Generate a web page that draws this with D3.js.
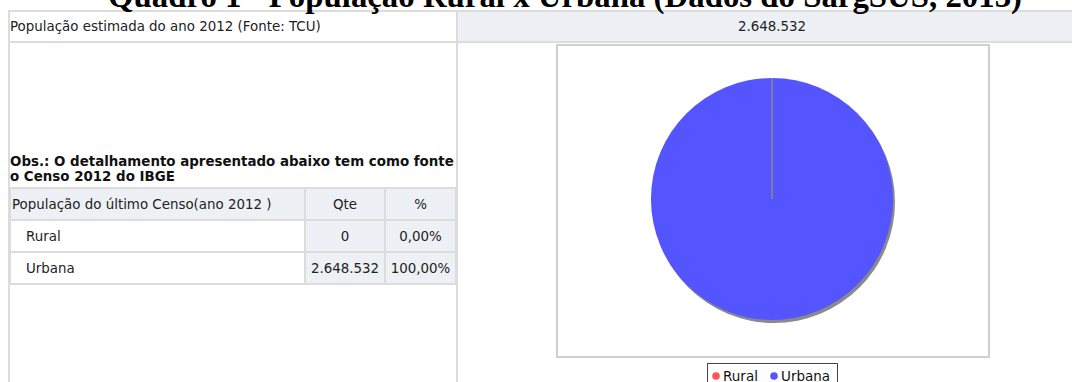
<!DOCTYPE html>
<html>
<head>
<meta charset="utf-8">
<script src="https://cdn.jsdelivr.net/npm/d3@7"></script>
<style>
  html, body { margin: 0; padding: 0; background: #fff; overflow: hidden; }
  svg { display: block; }
</style>
</head>
<body>
<svg id="chart" width="1072" height="382"></svg>
<script>
// Population data (SargSUS, 2013)
const categories = ["Rural", "Urbana"];
const values = [0, 2648532];
const percentLabels = ["0,00%", "100,00%"];
const qtyLabels = ["0", "2.648.532"];
const estimateLabel = "2.648.532";
const colors = ["#ff5555", "#5555ff"];

const titleText = "Quadro 1 - População Rural x Urbana (Dados do SargSUS, 2013)";
const headerLeft = "População estimada do ano 2012 (Fonte: TCU)";
const obsLines = ["Obs.: O detalhamento apresentado abaixo tem como fonte", "o Censo 2012 do IBGE"];
const tableHeader = ["População do último Censo(ano 2012 )", "Qte", "%"];

const svg = d3.select("#chart");
const font = "'DejaVu Sans', Verdana, sans-serif";
const fs = 13.4;
const cellBg = "#edf1f5";
const lineCol = "#dcdcdc";

// Outer layout table
svg.append("rect").attr("x", 457).attr("y", 11).attr("width", 620).attr("height", 31).attr("fill", cellBg);
svg.append("line").attr("x1", 9).attr("x2", 1072).attr("y1", 11).attr("y2", 11).attr("stroke", lineCol).attr("stroke-width", 2);
svg.append("line").attr("x1", 9).attr("x2", 1072).attr("y1", 42).attr("y2", 42).attr("stroke", lineCol).attr("stroke-width", 2);
svg.append("line").attr("x1", 9).attr("x2", 9).attr("y1", 10).attr("y2", 382).attr("stroke", lineCol).attr("stroke-width", 2);
svg.append("line").attr("x1", 457).attr("x2", 457).attr("y1", 10).attr("y2", 382).attr("stroke", lineCol).attr("stroke-width", 2);

// Page title (top partially outside the page)
svg.append("text")
  .attr("x", 565).attr("y", 7)
  .attr("text-anchor", "middle")
  .attr("font-family", "'Liberation Serif', 'Times New Roman', serif")
  .attr("font-weight", "bold")
  .attr("font-size", 33)
  .attr("textLength", 914).attr("lengthAdjust", "spacingAndGlyphs")
  .text(titleText);

svg.append("text").attr("x", 10).attr("y", 31)
  .attr("font-family", font).attr("font-size", fs).attr("fill", "#222")
  .text(headerLeft);
svg.append("text").attr("x", 772).attr("y", 31).attr("text-anchor", "middle")
  .attr("font-family", font).attr("font-size", fs).attr("fill", "#222")
  .text(estimateLabel);

// Observation note
svg.append("g").selectAll("text").data(obsLines).join("text")
  .attr("x", 10).attr("y", (d, i) => 166 + i * 15)
  .attr("font-family", font).attr("font-weight", "bold").attr("font-size", 13.4).attr("fill", "#111")
  .text(d => d);

// Census table
const colX = [10, 305, 385, 456];
const rowY = [188, 220, 252, 284];
const rows = [tableHeader].concat(categories.map((c, i) => [c, qtyLabels[i], percentLabels[i]]));
const tbl = svg.append("g");
rows.forEach((r, ri) => {
  r.forEach((cell, ci) => {
    const x0 = colX[ci], x1 = colX[ci + 1];
    const y0 = rowY[ri], y1 = rowY[ri + 1];
    const shaded = ri === 0 || ci > 0;
    tbl.append("rect").attr("x", x0).attr("y", y0).attr("width", x1 - x0).attr("height", y1 - y0)
      .attr("fill", shaded ? cellBg : "#fff")
      .attr("stroke", lineCol).attr("stroke-width", 2);
    const t = tbl.append("text")
      .attr("y", (y0 + y1) / 2 + 4.5)
      .attr("font-family", font).attr("font-size", fs).attr("fill", "#222")
      .text(cell);
    if (ci === 0) t.attr("x", ri === 0 ? x0 + 2 : x0 + 16);
    else t.attr("x", (x0 + x1) / 2).attr("text-anchor", "middle");
  });
});

// Chart frame
svg.append("rect").attr("x", 557).attr("y", 45).attr("width", 432).attr("height", 312)
  .attr("fill", "#fff").attr("stroke", "#cfcfcf").attr("stroke-width", 2);

// Pie
const cx = 772, cy = 199, r = 121;
const pie = d3.pie().sort(null).value(d => d)(values);
const arc = d3.arc().innerRadius(0).outerRadius(r);
const pg = svg.append("g").attr("transform", `translate(${cx},${cy})`);
// drop shadow
pg.append("circle").attr("cx", 2).attr("cy", 3).attr("r", r).attr("fill", "#8a8a8a");
pg.selectAll("path.slice").data(pie).join("path")
  .attr("class", "slice")
  .attr("d", arc)
  .attr("fill", (d, i) => colors[i]);
// slice boundary
pg.selectAll("line.edge").data(pie.filter(d => d.value === 0)).join("line")
  .attr("class", "edge")
  .attr("x1", 0).attr("y1", 0)
  .attr("x2", d => r * Math.sin(d.startAngle)).attr("y2", d => -r * Math.cos(d.startAngle))
  .attr("stroke", "#888").attr("stroke-width", 1.5);

// Legend
const lg = svg.append("g");
lg.append("rect").attr("x", 707.5).attr("y", 363.5).attr("width", 130).attr("height", 30)
  .attr("fill", "#fff").attr("stroke", "#444").attr("stroke-width", 1);
const legendX = [716, 774];
categories.forEach((c, i) => {
  lg.append("circle").attr("cx", legendX[i]).attr("cy", 376).attr("r", 3.8).attr("fill", colors[i]);
  lg.append("text").attr("x", legendX[i] + 7).attr("y", 381)
    .attr("font-family", "'DejaVu Sans', sans-serif").attr("font-size", 13.5).attr("fill", "#111")
    .text(c);
});
</script>
</body>
</html>
